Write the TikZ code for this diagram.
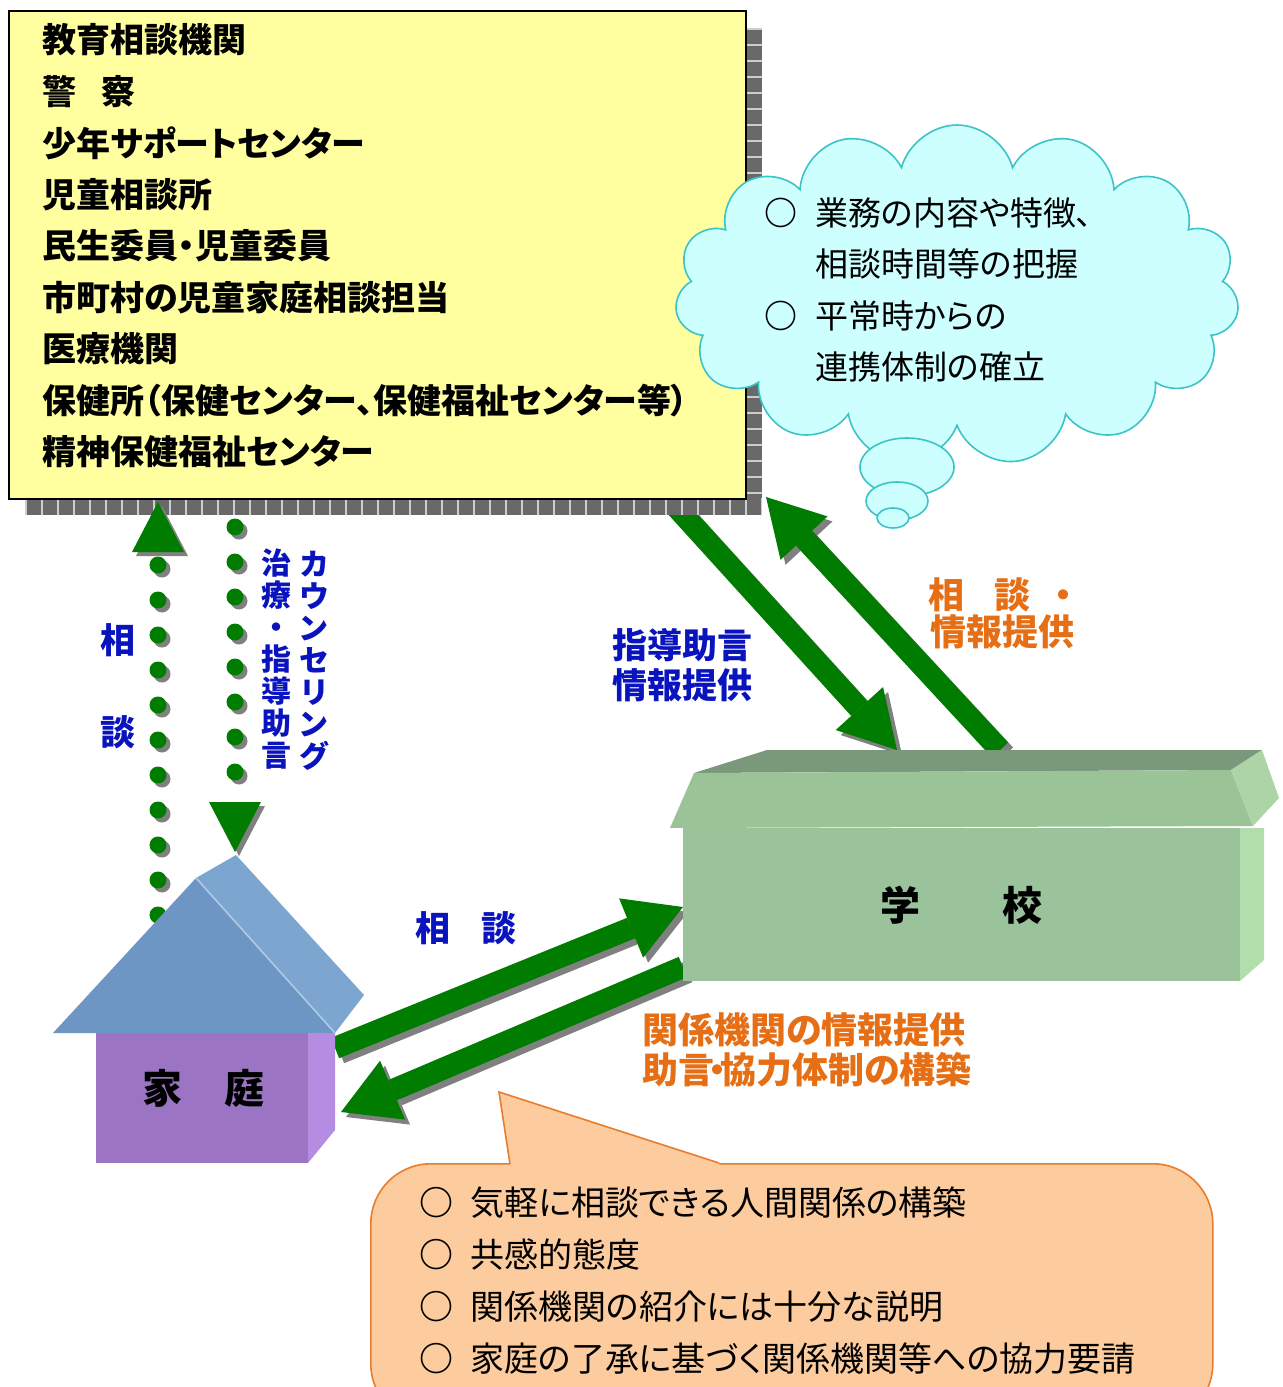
\documentclass[tikz,border=0pt]{standalone}
\usepackage{fontspec}
\setmainfont{Noto Sans CJK JP}[RawFeature=+palt]
\usetikzlibrary{arrows.meta,shapes.symbols}
\definecolor{boxyellow}{RGB}{255,255,160}
\definecolor{stripdark}{RGB}{105,105,105}
\definecolor{striplight}{RGB}{205,205,205}
\definecolor{cloudfill}{RGB}{205,255,255}
\definecolor{cloudline}{RGB}{60,195,200}
\definecolor{flowgreen}{RGB}{0,125,0}
\definecolor{flowshadow}{RGB}{128,128,128}
\definecolor{lblblue}{RGB}{10,20,190}
\definecolor{lblorange}{RGB}{230,110,20}
\definecolor{roofdark}{RGB}{122,152,122}
\definecolor{roofface}{RGB}{155,195,152}
\definecolor{roofside}{RGB}{172,212,166}
\definecolor{wallface}{RGB}{155,195,155}
\definecolor{wallside}{RGB}{178,222,172}
\definecolor{houseroof}{RGB}{110,150,196}
\definecolor{houseroofside}{RGB}{124,166,208}
\definecolor{housewall}{RGB}{155,117,196}
\definecolor{housewallside}{RGB}{180,140,226}
\definecolor{callfill}{RGB}{252,204,158}
\definecolor{callline}{RGB}{232,125,45}
\newcommand{\mk}{\makebox[25.5pt][l]{\bfseries ○}}

\begin{document}
\begin{tikzpicture}[x=0.5pt,y=-0.5pt,
  flow/.style={line width=11pt,-{Triangle[length=28pt,width=32pt,line width=0pt]}},
  dotflow/.style={line width=8.5pt,line cap=round,dash pattern=on 0pt off 17.5pt,
    -{Triangle[length=25pt,width=26pt,line width=0pt]}},
  orgtext/.style={anchor=west,inner sep=0pt,font=\fontsize{17}{20}\selectfont\bfseries},
  plaintext/.style={anchor=west,inner sep=0pt,align=left,font=\fontsize{16.5}{25.75}\selectfont},
  bluelbl/.style={inner sep=0pt,text=lblblue,font=\fontsize{17.5}{20}\selectfont\bfseries},
  orangelbl/.style={inner sep=0pt,text=lblorange,font=\fontsize{18}{20}\selectfont\bfseries},
  vlbl/.style={bluelbl,align=center,font=\fontsize{15}{16}\selectfont\bfseries},
  bigname/.style={inner sep=0pt,font=\fontsize{20}{22}\selectfont\bfseries},
  bubble/.style={draw=cloudline,fill=cloudfill,line width=0.8pt}]
\useasboundingbox (0,0) rectangle (1282,1387);
\clip (0,0) rectangle (1282,1387);
\fill[white] (0,0) rectangle (1282,1387);
%\draw[help lines] (0,0) rectangle (1282,1387);

\coordinate (orgOut) at (670,500);
\coordinate (schoolIn) at (897,750);
\coordinate (schoolOut) at (1000,750);
\coordinate (orgIn) at (766,497);
\coordinate (homeOut) at (335,1048);
\coordinate (schoolL) at (683,907);
\coordinate (schoolL2) at (683,967);
\coordinate (homeIn) at (341,1112);
\coordinate (homeUp) at (158,950);
\coordinate (orgUp) at (158,502);
\coordinate (orgDown) at (235,527);
\coordinate (homeRoof) at (235,852);

\foreach \col/\off in {flowshadow/5,flowgreen/0}{
  \draw[flow,\col,transform canvas={shift={(\off,\off)}}] (orgOut) -- (schoolIn);
  \draw[flow,\col,transform canvas={shift={(\off,\off)}}] (schoolOut) -- (orgIn);
  \draw[flow,\col,transform canvas={shift={(\off,\off)}}] (homeOut) -- (schoolL);
  \draw[flow,\col,transform canvas={shift={(\off,\off)}}] (schoolL2) -- (homeIn);
}

% organisations
\fill[stripdark] (745,28) rectangle (762,515);
\fill[stripdark] (25,498) rectangle (762,515);
\draw[striplight,line width=8.5pt,dash pattern=on 1pt off 7pt] (25,506.5) -- (762,506.5);
\draw[striplight,line width=8.5pt,dash pattern=on 1pt off 7pt] (753.5,28) -- (753.5,498);
\node[draw,line width=1pt,fill=boxyellow,anchor=north west,minimum width=368.5pt,
  minimum height=244pt,inner sep=0pt] (org) at (8,10) {};
\foreach \txt [count=\i] in {教育相談機関,警\hspace{12.5pt}察,少年サポートセンター,児童相談所,
  民生委員・児童委員,市町村の児童家庭相談担当,医療機関,
  保健所（保健センター、保健福祉センター等）,精神保健福祉センター}
  \node[orgtext] (org-\i) at (42,{40+51.5*(\i-1)}) {\txt};

% cloud
\node[cloud,cloud puffs=15,cloud ignores aspect,minimum width=282pt,minimum height=170pt,
  draw=cloudline,fill=cloudfill,line width=0.8pt] (memo) at (957,295) {};
\draw[bubble] (907,467) ellipse [x radius=47,y radius=29];
\draw[bubble] (897,501) ellipse [x radius=31,y radius=19];
\draw[bubble] (893,518) ellipse [x radius=16,y radius=10];
\foreach \a/\b [count=\i] in {業務の内容や特徴、/相談時間等の把握,平常時からの/連携体制の確立}
  \node[plaintext] (memo-\i) at (764,{238.5+103*(\i-1)}) {\mk\a\\\hspace*{25.5pt}\b};

\foreach \col/\off in {flowshadow/4,flowgreen/0}{
  \draw[dotflow,\col,transform canvas={shift={(\off,\off)}}] (homeUp) -- (orgUp);
  \draw[dotflow,\col,transform canvas={shift={(\off,\off)}}] (orgDown) -- (homeRoof);
}

% school
\fill[roofdark] (767,750) -- (1262,750) -- (1231,770) -- (694,773) -- cycle;
\fill[roofface] (694,773) -- (1231,770) -- (1253,826) -- (670,828) -- cycle;
\fill[roofside] (1231,770) -- (1262,750) -- (1279,798) -- (1253,826) -- cycle;
\fill[wallface] (683,828) rectangle (1240,981);
\fill[wallside] (1240,828) -- (1264,828) -- (1264,960) -- (1240,981) -- cycle;
\node[bigname] (school) at (961,905) {学\hspace{41pt}校};

% home
\fill[houseroof] (53,1033) -- (196,878) -- (335,1033) -- cycle;
\fill[houseroofside] (196,878) -- (236,855) -- (364,995) -- (335,1033) -- cycle;
\draw[houseroofside!60!white,line width=0.8pt] (196,878) -- (335,1033);
\fill[housewall] (96,1033) rectangle (308,1163);
\fill[housewallside] (308,1033) -- (335,1033) -- (335,1130) -- (308,1163) -- cycle;
\node[bigname] (home) at (203,1088) {家\hspace{21pt}庭};

% advice bubble
\node[draw=callline,fill=callfill,line width=0.8pt,rounded corners=30pt,anchor=north west,
  minimum width=421pt,minimum height=130pt,inner sep=0pt] (advice) at (370,1163) {};
\fill[callfill] (510,1163) -- (499,1092) -- (719,1163) -- (719,1167) -- (510,1167) -- cycle;
\draw[callline,line width=0.8pt] (510,1164) -- (499,1092) -- (719,1163);
\foreach \txt [count=\i] in {気軽に相談できる人間関係の構築,共感的態度,関係機関の紹介には十分な説明,
  家庭の了承に基づく関係機関等への協力要請}
  \node[plaintext,font=\fontsize{17}{20}\selectfont] (advice-\i) at (419,{1203+51.7*(\i-1)}) {\mk\txt};

% labels
\node[bluelbl] (ask-1) at (118,640) {相};
\node[bluelbl] (ask-2) at (118,732) {談};
\node[vlbl] (treat) at (276,659) {治\\療\\・\\指\\導\\助\\言};
\node[vlbl] (counsel) at (314,661) {カ\\ウ\\ン\\セ\\リ\\ン\\グ};
\node[bluelbl,anchor=west] (guide-1) at (612,645) {指導助言};
\node[bluelbl,anchor=west] (guide-2) at (612,685) {情報提供};
\node[orangelbl,anchor=west] (report-1) at (928,595) {相\hspace{15pt}談\hspace{12pt}・};
\node[orangelbl,anchor=west] (report-2) at (930,632) {情報提供};
\node[bluelbl] (consult) at (466,928) {相\hspace{16pt}談};
\node[orangelbl,anchor=west] (support-1) at (642,1030) {関係機関の情報提供};
\node[orangelbl,anchor=west] (support-2) at (642,1070) {助言\hspace{-3pt}・\hspace{-3pt}協力体制の構築};
\end{tikzpicture}
\end{document}
